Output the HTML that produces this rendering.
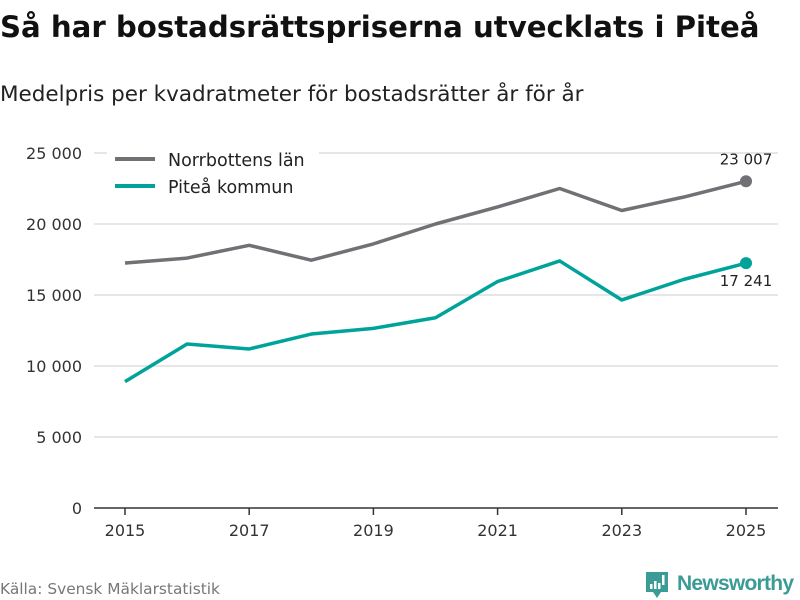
<!DOCTYPE html>
<html><head><meta charset="utf-8"><style>
body{margin:0;background:#fff;font-family:"DejaVu Sans","Liberation Sans",sans-serif;}
#wrap{position:relative;width:800px;height:600px;overflow:hidden;}
</style></head><body>
<div id="wrap">
<svg id="chart" width="800" height="600" xmlns="http://www.w3.org/2000/svg">
<text x="0" y="37" font-size="29.2" font-weight="bold" fill="#111">Så har bostadsrättspriserna utvecklats i Piteå</text>
<text x="0" y="101" font-size="21.5" fill="#222">Medelpris per kvadratmeter för bostadsrätter år för år</text>
<g id="grid"></g><g id="series"></g>
<rect x="107" y="143" width="212" height="62" fill="#fff"/>
<line x1="115" y1="159" x2="155" y2="159" stroke="#707075" stroke-width="4"/>
<text x="168" y="166" font-size="17.5" fill="#222">Norrbottens län</text>
<line x1="115" y1="186" x2="155" y2="186" stroke="#00A39A" stroke-width="4"/>
<text x="168" y="193" font-size="17.5" fill="#222">Piteå kommun</text>
<text x="0" y="594" font-size="15.4" fill="#777">Källa: Svensk Mäklarstatistik</text>
<g>
<path d="M646 572 h22 v20 h-7 l-4 6 l-4 -6 h-7 z" fill="#3a9c94"/>
<rect x="650" y="584" width="2.5" height="5" fill="#fff"/><rect x="654" y="581" width="2.5" height="8" fill="#fff"/><rect x="658" y="583" width="2.5" height="6" fill="#fff"/><rect x="662" y="575" width="2.5" height="10" fill="#fff"/>
<text x="677" y="590" font-size="21" font-family="Liberation Sans, sans-serif" font-weight="bold" fill="#3a9c94" textLength="117">Newsworthy</text>
</g>
</svg>
<script>
const years=[2015,2016,2017,2018,2019,2020,2021,2022,2023,2024,2025];
const norrbotten=[17250,17600,18500,17450,18600,20000,21200,22500,20950,21900,23007];
const pitea=[8900,11550,11200,12250,12650,13400,15950,17400,14650,16100,17241];
const yTicks=[0,5000,10000,15000,20000,25000];
const yTickLabels=["0","5 000","10 000","15 000","20 000","25 000"];
const xTicks=[2015,2017,2019,2021,2023,2025];
const NS="http://www.w3.org/2000/svg";
const x=v=>125+(v-2015)*62.1;
const y=v=>508-v*355/25000;
function mk(p,t,a){const e=document.createElementNS(NS,t);for(const k in a)e.setAttribute(k,a[k]);p.appendChild(e);return e;}
const g=document.getElementById('grid'),s=document.getElementById('series');
yTicks.forEach((t,i)=>{
 if(t>0){const l=mk(g,'line',{x1:94,x2:778,y1:y(t),y2:y(t),stroke:'#ddd','stroke-width':1.5});
 
 }
 const tx=mk(g,'text',{x:82,y:y(t)+6,'font-size':16,fill:'#333','text-anchor':'end'});tx.textContent=yTickLabels[i];
 
 
});
const ax=mk(g,'line',{x1:94,x2:778,y1:508,y2:508,stroke:'#333','stroke-width':1.5});


xTicks.forEach(t=>{
 const tk=mk(g,'line',{x1:x(t),x2:x(t),y1:508,y2:515,stroke:'#333','stroke-width':1.5});
 
 
 const tx=mk(g,'text',{x:x(t),y:536,'font-size':16,fill:'#333','text-anchor':'middle'});tx.textContent=t;
 
 
});
function line(data,color,name){
 const p=mk(s,'polyline',{points:data.map((v,i)=>x(years[i])+','+y(v)).join(' '),fill:'none',stroke:color,'stroke-width':3.5,'stroke-linejoin':'round'});
 
 
 const n=data.length-1;
 const c=mk(s,'circle',{cx:x(years[n]),cy:y(data[n]),r:6,fill:color});
 
 
}
line(norrbotten,'#707075','norrbotten');
line(pitea,'#00A39A','pitea');
const fmt=v=>String(v).replace(/\B(?=(\d{3})+(?!\d))/g,' ');
const l1=mk(s,'text',{x:x(2025),y:y(norrbotten[10])-17,'font-size':15,fill:'#222','text-anchor':'middle'});l1.textContent=fmt(norrbotten[10]);


const l2=mk(s,'text',{x:x(2025),y:y(pitea[10])+23,'font-size':15,fill:'#222','text-anchor':'middle'});l2.textContent=fmt(pitea[10]);


</script>
</div>
</body></html>
